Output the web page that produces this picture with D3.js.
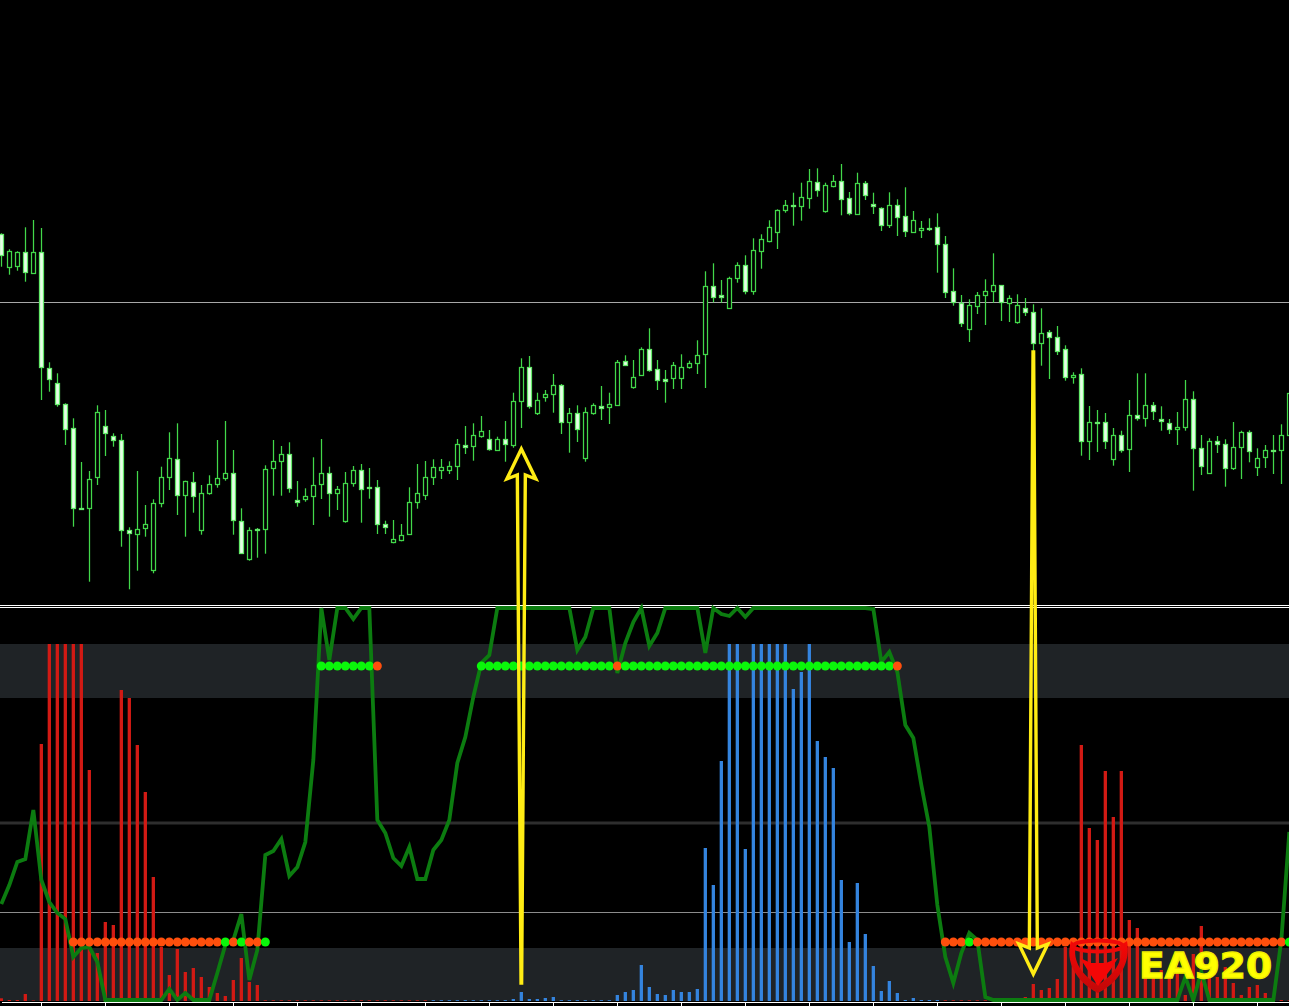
<!DOCTYPE html>
<html>
<head>
<meta charset="utf-8">
<title>EA920</title>
<script src="https://cdn.jsdelivr.net/npm/d3@7"></script>
<style>
html, body { margin: 0; background: #000; overflow: hidden; }
svg { display: block; }
.x-axis path, .x-axis line { stroke: #fff; }
</style>
</head>
<body>
<div id="chart"></div>
<script>
//candles, one row per ten bars, price in chart points
var highs = [
    372.7, 356.7, 354.7, 378.7, 386, 378, 243.7, 232.7, 202.7, 187.7,
    144, 135, 200.7, 196, 172.7, 172, 78.7, 135, 101, 106.7,
    139.3, 173.7, 182.7, 125.3, 134, 121, 130.7, 166, 185, 156,
    97.7, 78.7, 78, 140.7, 166, 160, 163.7, 125, 117.7, 148.7,
    167, 139.3, 120, 134, 140, 142, 138, 126, 85.3, 86,
    82, 118.7, 142, 145, 146.7, 147, 144.7, 167, 180, 182.7,
    190, 176, 169.3, 185, 213.3, 247.7, 250, 213.3, 216, 232,
    222, 198, 200.7, 198.7, 202.7, 220, 213.3, 246, 250.7, 246,
    258.7, 277.7, 246, 236, 244, 251.7, 245.3, 265.7, 334.7, 342.7,
    326, 329.3, 343.7, 350.7, 367.7, 371.7, 385.7, 396.7, 406, 413.3,
    423.3, 437, 437.7, 423.3, 431, 442, 414, 433.3, 425, 413.3,
    398.7, 413.7, 406.7, 418.7, 395, 385, 387.7, 392.7, 370, 337.7,
    311, 306.7, 314, 326.7, 352.7, 320.7, 310.7, 311.7, 308, 301.7,
    297.7, 276, 280, 260.7, 233.7, 237.7, 200, 196, 193, 178,
    175.3, 206, 232.7, 232.7, 204, 199.7, 187, 194, 226, 214.7,
    171, 167.7, 170, 166.7, 184, 175.3, 175.7, 157.7, 161, 171,
    181.7, 213.3
];
var lows = [
    339.3, 331.3, 335.3, 324.3, 332, 206, 214.3, 199.3, 161, 79.3,
    96, 24.3, 121, 150, 159.3, 59.3, 16.7, 35.3, 69.3, 32.7,
    98.7, 116, 91, 69.3, 93.3, 71.3, 111.3, 118.3, 125.3, 71.3,
    52, 45.3, 48.3, 52.3, 110.3, 110.3, 113.3, 99.3, 104.3, 81,
    107, 89.3, 96, 83.3, 119.3, 83.3, 107.3, 72, 72, 62.7,
    64.7, 71.3, 97.3, 106, 121, 127, 132, 126, 152, 145.3,
    168.3, 155.3, 155, 144.3, 158.3, 178, 197.3, 191, 204.3, 193.3,
    172, 153.3, 164, 144.3, 191.3, 186, 182, 200, 240, 217.3,
    230.3, 234.3, 216, 203.3, 217, 217, 237.3, 232, 218, 303.7,
    303.3, 297, 323.3, 311.7, 311.3, 337.3, 363.7, 357, 393.3, 380.3,
    385.3, 397.3, 409.3, 393.3, 418.7, 390.7, 390.7, 391, 406, 392,
    375, 378, 370, 369, 373.3, 368, 375, 333.3, 308, 300.3,
    279, 264, 292, 281, 303.3, 285, 284, 282.3, 290, 249.3,
    240.3, 227, 251, 225.3, 222.3, 150.3, 146, 154, 157, 140.3,
    153.3, 134, 185.3, 179.3, 186, 175.3, 172, 161, 175.3, 115.3,
    131, 132, 153, 119.3, 136, 127, 143.7, 130, 138, 132,
    122, 170.7
];
var opens = [
    371.7, 338.3, 339.7, 353.7, 333, 353.7, 238.3, 222.7, 201.7, 177.7,
    97.7, 98.7, 128.7, 179.7, 169.7, 165.7, 75.7, 72.7, 77.3, 35.3,
    102.7, 128.7, 146.7, 111.3, 124.3, 75.3, 112.3, 121.3, 127.3, 132.7,
    84.7, 47, 76.7, 76.7, 137.3, 144.3, 151.7, 106, 106.7, 109.3,
    121.3, 132.7, 112.7, 84.7, 122.3, 135.7, 118.7, 118.7, 81.7, 63.3,
    66.7, 71.3, 103.7, 110.7, 128.7, 135.3, 136.3, 139.7, 161, 159.3,
    170, 166.7, 156, 166.7, 161, 204.7, 238.7, 192.7, 208.3, 211.3,
    220.7, 183.3, 192.7, 147.3, 192.7, 200.3, 198.7, 201, 244.7, 218.3,
    231, 256.7, 236.7, 227.3, 227.3, 227.3, 239, 242.3, 251.3, 319.7,
    310.7, 297.3, 327.7, 340.7, 314.3, 354.3, 365, 373.7, 395.3, 400.7,
    399.7, 407.7, 424.3, 394.7, 420.3, 425.3, 407.7, 391.3, 422.7, 401.7,
    397.7, 380.3, 400.7, 389.7, 374.3, 375.7, 378.3, 378.7, 361.7, 314.7,
    303.3, 276.7, 299.7, 310.3, 314.7, 320.7, 303.3, 284, 297.7, 293.7,
    262.7, 273.7, 268.7, 256.7, 228.7, 231.7, 164.3, 184, 183.7, 146.7,
    171.3, 156.7, 190.7, 187.3, 200.7, 187, 182.7, 176.7, 178.7, 207,
    157.7, 132.7, 164.7, 161.7, 137.3, 158.7, 173.7, 138.7, 148.7, 156,
    155.3, 170.7
];
var closes = [
    351, 354.7, 353.7, 333.7, 353.7, 238.7, 227.7, 201.7, 176.7, 97.7,
    96.7, 127.3, 193.7, 172.7, 165.7, 75.7, 72.7, 77.3, 81.7, 102.7,
    128.7, 147.7, 110.7, 125, 110.7, 112.7, 121.7, 127.7, 132.7, 85.7,
    52.7, 75.7, 75.7, 136.7, 144.7, 151.7, 117.7, 104.3, 109.7, 120.7,
    132.7, 112.7, 116.7, 122.7, 135.7, 116.7, 117.3, 81.7, 78.3, 66.7,
    71.3, 103.7, 112.7, 128.7, 138.7, 138.7, 140, 161.7, 159.3, 170.7,
    174.7, 156.7, 167, 161.7, 204.7, 238.7, 199.3, 205.7, 211.7, 220.7,
    183.7, 192.7, 176.7, 193.7, 201, 198.7, 201.7, 244, 240.7, 228.7,
    257, 236, 225.7, 225.7, 240.7, 238.7, 242.7, 250.7, 319.7, 308.7,
    308.7, 327.7, 341, 314.3, 355.7, 366.7, 378.7, 395.7, 400.7, 399.7,
    408.7, 424.7, 416.7, 420.7, 425.3, 407.7, 392.7, 422.7, 410.7, 399.7,
    380.3, 400.7, 388.7, 374.7, 386.3, 377.7, 377.3, 361.7, 313.3, 304,
    283.3, 300.7, 310.7, 314.7, 320.7, 303.7, 308, 300.7, 293.3, 262.7,
    272.7, 268.7, 254.3, 228.3, 231, 164.3, 183.7, 183, 164.3, 170.7,
    156.7, 190.7, 187.3, 200.7, 194.3, 185.3, 176.7, 178.7, 207, 157.7,
    139.7, 164.7, 161.7, 137.3, 158.7, 174, 154.7, 147.7, 155.7, 155,
    170.7, 212.7
];

//histogram, sell side and buy side
var sellBars = [
    2.7, 1, 1, 7, 0.5, 257, 357, 357, 357, 357,
    357, 231, 48, 79, 76, 311, 303, 256, 209, 124,
    54, 26, 52, 29, 33, 24, 14, 8, 5, 21,
    43, 19, 16, 0.7, 0.7, 0.7, 0.7, 0.7, 0.7, 0.7,
    0.7, 0.7, 0.7, 0.7, 0.7, 0.7, 0.7, 0.7, 0.7, 0.7,
    0.7, 0.7, 0.7, 0.7, 0, 0, 0, 0, 0, 0,
    0, 0, 0, 0, 0, 0, 0, 0, 0, 0,
    0, 0, 0, 0, 0, 0, 0, 0, 0, 0,
    0, 0, 0, 0, 0, 0, 0, 0, 0, 0,
    0, 0, 0, 0, 0, 0, 0, 0, 0, 0,
    0, 0, 0, 0, 0, 0, 0, 0, 0, 0,
    0, 0, 0, 0, 0, 0, 0, 0, 0.7, 0.7,
    0.7, 0.7, 0.7, 0.7, 0.7, 0.7, 0.7, 0.7, 4, 17,
    11, 13, 22, 54, 61, 256, 173, 161, 230, 184,
    230, 81, 73, 24, 24, 31, 24, 34, 6, 47,
    75, 24, 24, 34, 18, 6, 14, 16, 8, 1,
    1, 0.7
];
var buyBars = [
    0, 0, 0, 0, 0, 0, 0, 0, 0, 0,
    0, 0, 0, 0, 0, 0, 0, 0, 0, 0,
    0, 0, 0, 0, 0, 0, 0, 0, 0, 0,
    0, 0, 0, 0, 0, 0, 0, 0, 0, 0,
    0, 0, 0, 0, 0, 0, 0, 0, 0, 0,
    0, 0, 0, 0, 0.8, 0.8, 0.8, 0.8, 0.8, 0.8,
    0.8, 0.8, 0.8, 0.8, 2, 9, 2, 2, 3, 4,
    0.8, 0.8, 0.8, 0.8, 0.8, 0.8, 0.8, 6, 9, 11,
    36, 14, 7, 6, 11, 9, 9, 12, 153, 116,
    240, 357, 357, 152, 357, 357, 357, 357, 357, 312,
    329, 357, 260, 244, 233, 121, 59, 118, 67, 35,
    10, 20, 8, 1, 3, 1, 1, 1, 0, 0,
    0, 0, 0, 0, 0, 0, 0, 0, 0, 0,
    0, 0, 0, 0, 0, 0, 0, 0, 0, 0,
    0, 0, 0, 0, 0, 0, 0, 0, 0, 0,
    0, 0, 0, 0, 0, 0, 0, 0, 0, 0,
    0, 0
];

//oscillator line
var oscillator = [
    97, 116, 139, 142, 191, 121, 99, 88, 82, 44,
    53, 54, 39, 1, 1, 1, 1, 1, 1, 1,
    1, 12, 1, 8, 1, 1, 1, 28, 56, 61,
    87, 21, 51, 146, 150, 162, 125, 134, 159, 241,
    393, 341, 393, 393, 382, 393, 393, 181, 168, 143,
    135, 154, 122, 122, 151, 161, 181, 238, 264, 304,
    338, 346, 393, 393, 393, 393, 393, 393, 393, 393,
    393, 393, 351, 364, 393, 393, 393, 328, 358, 379,
    393, 355, 368, 393, 393, 393, 393, 393, 348, 393,
    387, 385, 393, 384, 393, 393, 393, 393, 393, 393,
    393, 393, 393, 393, 393, 393, 393, 393, 393, 392,
    339, 349, 329, 276, 263, 216, 174, 96, 44, 18,
    48, 68, 61, 4, 1, 1, 1, 1, 1, 1,
    1, 1, 1, 1, 1, 1, 1, 1, 1, 1,
    1, 1, 1, 1, 1, 1, 1, 1, 24, 1,
    29, 1, 1, 1, 1, 1, 1, 1, 1, 1,
    61, 169
];

//signal dots: first bar, last bar, row, side
var dotRuns = [
    [9, 27, "lower", "sell"], [28, 28, "lower", "buy"], [29, 29, "lower", "sell"],
    [30, 30, "lower", "buy"], [31, 32, "lower", "sell"], [33, 33, "lower", "buy"],
    [40, 46, "upper", "buy"], [47, 47, "upper", "sell"],
    [60, 76, "upper", "buy"], [77, 77, "upper", "sell"],
    [78, 111, "upper", "buy"], [112, 112, "upper", "sell"],
    [118, 120, "lower", "sell"], [121, 121, "lower", "buy"],
    [122, 160, "lower", "sell"], [161, 161, "lower", "buy"]
];
var dotLevels = { upper: 335, lower: 59 };

//oscillator bands and levels
var bands = [[303, 357], [0, 53]];
var levels = [178, 89];
var priceLine = 304;

//time ticks sit every eight bars
var timeTicks = [5, 13, 21, 29, 37, 45, 53, 61, 69, 77, 85, 93, 101, 109, 117, 125, 133, 141, 149, 157];

//hand drawn arrows: bar, tip price, tail price
var entryArrow = { bar: 65, tip: 157, tail: -377 };
var exitArrow = { bar: 129, tip: -368, tail: 254 };

var svgWidth = 1289;
var svgHeight = 1006;

var svg = d3.select("#chart").append("svg")
    .attr("width", svgWidth)
    .attr("height", svgHeight);

svg.append("rect")
    .attr("width", svgWidth)
    .attr("height", svgHeight)
    .attr("fill", "#000");

var xBar = d3.scaleLinear().domain([0, 161]).range([1.33, 1289.33]);
var yPrice = d3.scaleLinear().domain([0, 606]).range([606, 0]);
var yOsc = d3.scaleLinear().domain([0, 357]).range([1001, 644]);

//snap to the pixel grid like the terminal does
function px(k) {
    return Math.floor(xBar(k)) + 0.5;
}

//horizontal price line
svg.append("line")
    .attr("x1", 0).attr("x2", svgWidth)
    .attr("y1", Math.round(yPrice(priceLine)) + 0.5)
    .attr("y2", Math.round(yPrice(priceLine)) + 0.5)
    .attr("stroke", "#a8a8a8");

//candles
var candles = svg.append("g")
    .selectAll("g")
    .data(d3.range(highs.length))
    .enter()
    .append("g");

candles.append("line")
    .attr("x1", d => px(d))
    .attr("x2", d => px(d))
    .attr("y1", d => yPrice(highs[d]))
    .attr("y2", d => yPrice(lows[d]))
    .attr("stroke", "#42d84a")
    .attr("stroke-width", 1.25);

candles.append("rect")
    .attr("x", d => px(d) - 2)
    .attr("width", 4)
    .attr("y", d => Math.round(yPrice(Math.max(opens[d], closes[d]))) + 0.5)
    .attr("height", d => Math.max(1, Math.round(Math.abs(opens[d] - closes[d]))))
    .attr("fill", d => closes[d] < opens[d] ? "#e6ffe6" : "#000")
    .attr("stroke", d => closes[d] < opens[d] ? "#62e868" : "#42d84a")
    .attr("stroke-width", 1.25);

//pane separator
svg.selectAll(".sep")
    .data([605.5, 607.5])
    .enter()
    .append("line")
    .attr("class", "sep")
    .attr("x1", 0).attr("x2", svgWidth)
    .attr("y1", d => d).attr("y2", d => d)
    .attr("stroke", "#fff");

//oscillator pane
svg.selectAll(".band")
    .data(bands)
    .enter()
    .append("rect")
    .attr("class", "band")
    .attr("x", 0)
    .attr("width", svgWidth)
    .attr("y", d => yOsc(d[1]))
    .attr("height", d => yOsc(d[0]) - yOsc(d[1]))
    .attr("fill", "#1f2326");

svg.append("line")
    .attr("x1", 0).attr("x2", svgWidth)
    .attr("y1", yOsc(levels[0])).attr("y2", yOsc(levels[0]))
    .attr("stroke", "#2e2e2e")
    .attr("stroke-width", 3);

svg.append("line")
    .attr("x1", 0).attr("x2", svgWidth)
    .attr("y1", yOsc(levels[1]) + 0.5).attr("y2", yOsc(levels[1]) + 0.5)
    .attr("stroke", "#8c8c8c");

function drawBars(values, color) {
    svg.append("g")
        .selectAll("rect")
        .data(values)
        .enter()
        .append("rect")
        .attr("x", (d, i) => xBar(i) - 1.65)
        .attr("width", 3.3)
        .attr("y", d => yOsc(d))
        .attr("height", d => yOsc(0) - yOsc(d))
        .attr("fill", color);
}

drawBars(sellBars, "#d21a14");
drawBars(buyBars, "#3484de");

var oscLine = d3.line()
    .x((d, i) => xBar(i))
    .y(d => yOsc(d));

svg.append("path")
    .datum(oscillator)
    .attr("d", oscLine)
    .attr("fill", "none")
    .attr("stroke", "#0c7c10")
    .attr("stroke-width", 3.8)
    .attr("stroke-linejoin", "miter");

//signal dots
var dots = [];
dotRuns.forEach(function (run) {
    d3.range(run[0], run[1] + 1).forEach(function (k) {
        dots.push({ bar: k, level: dotLevels[run[2]], side: run[3] });
    });
});

svg.append("g")
    .selectAll("circle")
    .data(dots)
    .enter()
    .append("circle")
    .attr("cx", d => xBar(d.bar))
    .attr("cy", d => yOsc(d.level))
    .attr("r", 4.5)
    .attr("fill", d => d.side === "buy" ? "#0af70a" : "#ff4f0c");

//arrows, outline only
function arrowPath(a, dir) {
    var x = xBar(a.bar);
    var tip = yPrice(a.tip);
    var tail = yPrice(a.tail);
    var p = d3.path();
    p.moveTo(x - 0.3, tail);
    p.lineTo(x - 4, tip + dir * 26);
    p.lineTo(x - 14.5, tip + dir * 30);
    p.lineTo(x, tip);
    p.lineTo(x + 14.5, tip + dir * 30);
    p.lineTo(x + 4, tip + dir * 26);
    p.lineTo(x + 0.3, tail);
    p.closePath();
    return p.toString();
}

svg.selectAll(".arrow")
    .data([[entryArrow, 1], [exitArrow, -1]])
    .enter()
    .append("path")
    .attr("class", "arrow")
    .attr("d", d => arrowPath(d[0], d[1]))
    .attr("fill", "none")
    .attr("stroke", "#ffec14")
    .attr("stroke-width", 3.4)
    .attr("stroke-linejoin", "miter");

//logo
var logo = svg.append("g");

var logoFill = svg.append("defs").append("linearGradient")
    .attr("id", "logoFill")
    .attr("x1", 0).attr("x2", 0)
    .attr("y1", 0).attr("y2", 1);
logoFill.append("stop").attr("offset", "0%").attr("stop-color", "#f80606");
logoFill.append("stop").attr("offset", "100%").attr("stop-color", "#c00808");

logo.append("path")
    .attr("d", "M1071,941 C1065,961 1075,981 1098,993 C1121,981 1131,961 1127,941 L1121,945 C1124,961 1114,975 1098,985 C1082,975 1072,961 1076,945 Z")
    .attr("fill", "url(#logoFill)");

logo.append("ellipse")
    .attr("cx", 1098).attr("cy", 946)
    .attr("rx", 25).attr("ry", 5.5)
    .attr("fill", "none")
    .attr("stroke", "#ee0808")
    .attr("stroke-width", 4);

logo.append("path")
    .attr("d", "M1080,958 L1091,963 L1106,963 L1118,958 L1111,969 L1098,986 L1087,969 Z")
    .attr("fill", "#f40606");

logo.append("text")
    .attr("x", 1139)
    .attr("y", 978)
    .attr("textLength", 133)
    .attr("lengthAdjust", "spacingAndGlyphs")
    .attr("font-family", "DejaVu Sans")
    .attr("font-weight", "bold")
    .attr("font-size", 36)
    .attr("fill", "#ffff00")
    .attr("stroke", "#eeee00")
    .attr("stroke-width", 1.3)
    .text("EA920");

//time axis, labels fall outside the picture
var xAxis = svg.append("g")
    .attr("class", "x-axis")
    .attr("transform", "translate(0, 1002)")
    .attr("shape-rendering", "crispEdges")
    .call(d3.axisBottom(xBar).tickValues(timeTicks).tickSize(4).tickSizeOuter(0).tickFormat(""));
</script>
</body>
</html>
